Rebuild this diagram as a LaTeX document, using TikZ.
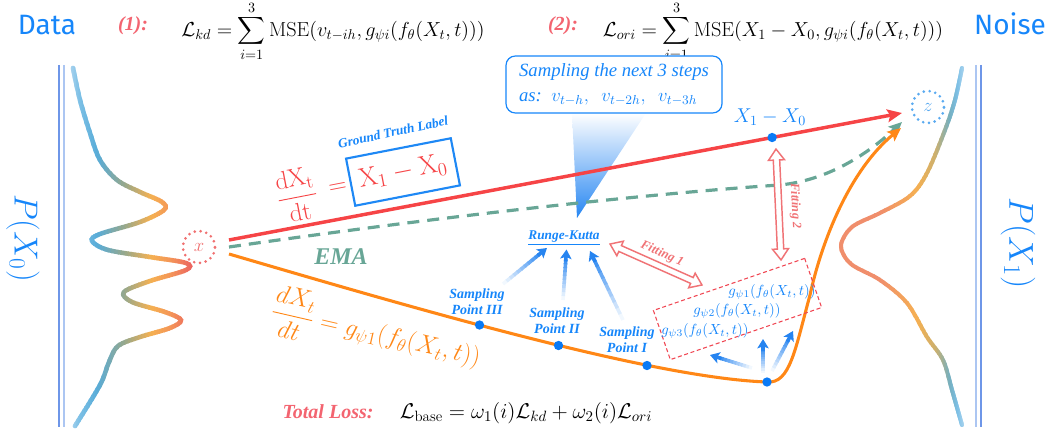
\RequirePackage{fix-cm}
\documentclass[tikz,border=0pt]{standalone}
\usepackage{fontspec}
\usepackage{amsmath}
\usetikzlibrary{arrows.meta,calc}
\newfontfamily\tnr{Liberation Serif}
\newfontfamily\pop{Fira Sans}
\definecolor{myblue}{RGB}{22,134,250}
\definecolor{pinkred}{RGB}{243,100,112}
\definecolor{redline}{RGB}{246,68,70}
\definecolor{orangec}{RGB}{255,135,22}
\definecolor{emagreen}{RGB}{104,166,150}
\definecolor{dotblue}{RGB}{10,122,245}
\definecolor{fitpink}{RGB}{240,115,118}
\definecolor{boxred}{RGB}{240,70,82}
\definecolor{xred}{RGB}{240,112,112}
\definecolor{zblue}{RGB}{90,170,240}
\definecolor{arrowblue}{RGB}{38,132,240}
\definecolor{triblue}{RGB}{38,134,242}
\definecolor{boxblue}{RGB}{30,136,245}
\definecolor{vline1}{RGB}{110,150,232}
\definecolor{vline2}{RGB}{172,198,242}
% curve gradient stops
\definecolor{clb}{RGB}{192,221,243}
\definecolor{csb}{RGB}{125,192,230}
\definecolor{cbl}{RGB}{88,172,216}
\definecolor{cgg}{RGB}{150,168,140}
\definecolor{cor}{RGB}{245,176,82}
\definecolor{cor2}{RGB}{244,148,88}
\definecolor{crd}{RGB}{234,92,96}
\definecolor{csal}{RGB}{240,142,108}
\definecolor{ctan}{RGB}{205,176,110}
\definecolor{cteal}{RGB}{118,176,192}

\newcommand\gradseg[6]{% #1 curve macro, #2 width, #3 x from, #4 x to, #5 colour at from, #6 colour at to
  \foreach \k in {0,...,7}{%
    \pgfmathsetmacro\xl{#3+(#4-(#3))*\k/8-0.5}%
    \pgfmathsetmacro\xr{#3+(#4-(#3))*(\k+1)/8+0.5}%
    \pgfmathtruncatemacro\pc{100-(\k+0.5)*12.5}%
    \begin{scope}
      \clip (\xl,40) rectangle (\xr,431);
      \draw[line width=#2, line cap=round, color=#5!\pc!#6] #1;
    \end{scope}
  }%
}
\newcommand\gradarrow[2]{%
  \coordinate (gaE) at ($(#2)!8pt!(#1)$);
  \foreach \k in {0,...,9}{%
    \pgfmathsetmacro\ta{\k/10}%
    \pgfmathsetmacro\tb{(\k+1)/10+0.02}%
    \pgfmathtruncatemacro\pc{6+9*\k}%
    \draw[line width=2.7pt, color=arrowblue!\pc!white] ($(#1)!\ta!(gaE)$) -- ($(#1)!\tb!(gaE)$);
  }%
  \draw[line width=2.7pt, arrowblue, -{Stealth[length=7pt,width=8.5pt,inset=1.5pt]}] ($(#2)!9pt!(#1)$) -- (#2);
}
\newcommand\hollowdarrow[3]{% #1 centre, #2 angle, #3 half length
  \begin{scope}[shift={#1}, rotate=#2]
    \draw[fitpink, line width=1.1pt, fill=white, line join=miter]
      (-#3,0) -- (-#3+11,8) -- (-#3+11,3.2) -- (#3-11,3.2) -- (#3-11,8) -- (#3,0)
      -- (#3-11,-8) -- (#3-11,-3.2) -- (-#3+11,-3.2) -- (-#3+11,-8) -- cycle;
  \end{scope}
}

\def\leftcurve{plot[smooth, tension=0.55] coordinates {(73,68) (80,100) (90,133) (100,160) (117,180) (140,192) (162,202) (164,210) (140,222) (100,234) (92,241) (108,250) (150,257) (186,263) (186,270) (150,281) (124,292) (132,302) (165,312) (181,320) (170,328) (140,337) (118,346) (109,362) (100,385) (75,426)}}
\def\rightcurve{plot[smooth, tension=0.55] coordinates {(962,68) (955,100) (945,130) (927,173) (910,196) (880,213) (852,227) (841,246) (851,264) (880,280) (907,303) (927,337) (943,360) (952,390) (962,425)}}

\begin{document}
\begin{tikzpicture}[x=0.75pt,y=-0.75pt,
  bdot/.style={circle, fill=dotblue, draw=none, inner sep=0pt, minimum size=7pt},
  slab/.style={text=myblue, align=center, font=\tnr\bfseries\itshape\fontsize{10.5}{12}\selectfont, inner sep=1pt},
  gtext/.style={text=myblue, font=\fontsize{11}{13}\selectfont, inner sep=0pt},
  fitlab/.style={text=fitpink, font=\tnr\bfseries\itshape\fontsize{9.5}{11}\selectfont, inner sep=0pt},
  ringnode/.style={circle, line width=2.2pt, dash pattern=on 0pt off 4.4pt, line cap=round, minimum size=24pt, inner sep=0pt, font=\fontsize{14}{16}\selectfont}
]
\useasboundingbox (0,0) rectangle (1060,431);

% ---------- distributions ----------
\gradseg{\leftcurve}{3.4pt}{66}{80}{clb}{csb}
\gradseg{\leftcurve}{3.4pt}{80}{98}{csb}{cbl}
\gradseg{\leftcurve}{3.4pt}{98}{125}{cbl}{cgg}
\gradseg{\leftcurve}{3.4pt}{125}{152}{cgg}{cor}
\gradseg{\leftcurve}{3.4pt}{152}{172}{cor}{cor2}
\gradseg{\leftcurve}{3.4pt}{172}{196}{cor2}{crd}

\gradseg{\rightcurve}{3pt}{834}{880}{csal}{csal}
\gradseg{\rightcurve}{3pt}{880}{918}{csal}{cor}
\gradseg{\rightcurve}{3pt}{918}{936}{cor}{ctan}
\gradseg{\rightcurve}{3pt}{936}{950}{ctan}{cteal}
\gradseg{\rightcurve}{3pt}{950}{958}{cteal}{csb}
\gradseg{\rightcurve}{3pt}{958}{968}{csb}{clb}

% ---------- double vertical lines ----------
\draw[vline1, line width=2pt] (59,65) -- (59,427);
\draw[vline2, line width=1.8pt] (64,65) -- (64,427);
\draw[vline2, line width=1.8pt] (976,65) -- (976,427);
\draw[vline1, line width=2pt] (981,65) -- (981,427);

% ---------- titles ----------
\node[text=myblue, font=\pop\fontsize{21}{25}\selectfont] (data) at (47,25) {Data};
\node[text=myblue, font=\pop\fontsize{21}{25}\selectfont] (noise) at (1010,24) {Noise};
\node[rotate=-90, text=myblue, font=\fontsize{25}{30}\selectfont] (p0) at (23,238) {$P(X_0)$};
\node[rotate=-90, text=myblue, font=\fontsize{26}{30}\selectfont] (p1) at (1018,243) {$P(X_1)$};

\node[text=pinkred, font=\tnr\bfseries\itshape\fontsize{15}{18}\selectfont] (l1) at (133,26) {(1):};
\node[font=\fontsize{15.2}{17}\selectfont] (f1) at (333,31) {$\displaystyle \mathcal{L}_{kd}=\sum_{i=1}^{3}\mathrm{MSE}(v_{t-ih},g_{\psi i}(f_\theta(X_t,t)))$};
\node[text=pinkred, font=\tnr\bfseries\itshape\fontsize{15}{18}\selectfont] (l2) at (563,26) {(2):};
\node[font=\fontsize{15.2}{17}\selectfont] (f2) at (773,31) {$\displaystyle \mathcal{L}_{ori}=\sum_{i=1}^{3}\mathrm{MSE}(X_1-X_0,g_{\psi i}(f_\theta(X_t,t)))$};

\node[text=pinkred, font=\tnr\bfseries\itshape\fontsize{15}{18}\selectfont] (tl) at (328,412) {Total Loss:};
\node[font=\fontsize{16}{19}\selectfont] (tlf) at (526,413) {$\mathcal{L}_{\mathrm{base}}=\omega_1(i)\mathcal{L}_{kd}+\omega_2(i)\mathcal{L}_{ori}$};

% ---------- spotlight triangle ----------
\shade[top color=white, bottom color=triblue] (572,113) -- (646,113) -- (577,218) -- cycle;

% ---------- end nodes ----------
\node[ringnode, draw=xred, text=xred] (xn) at (199,247) {$x$};
\node[ringnode, draw=zblue, text=zblue] (zn) at (928,107) {$z$};

\coordinate (rs) at ($(xn.center)+(30,-7)$);
\coordinate (gs) at ($(xn.center)+(30,0)$);
\coordinate (os) at ($(xn.center)+(30,7)$);
\coordinate (re) at ($(zn.center)+(-26,6)$);
\coordinate (ge) at ($(zn.center)+(-26,15)$);
\coordinate (oe) at ($(zn.center)+(-27,21)$);
\coordinate (bd) at (767,382);

% red straight flow
\draw[redline, line width=2.6pt, -{Stealth[length=11pt,width=9.5pt,inset=2pt]}] (rs) -- (re);
% EMA dashed
\draw[emagreen, line width=2.4pt, dash pattern=on 9pt off 6pt, -{Stealth[length=10pt,width=9pt,inset=2pt]}]
  (gs) .. controls (500,208) and (700,190) .. (780,185) .. controls (830,180) and (870,152) .. (ge);
% orange curved flow
\draw[orangec, line width=2.3pt, -{Stealth[length=10pt,width=9pt,inset=2pt]}]
  (os) .. controls (400,304) and (650,378) .. (bd)
  .. controls (790,384) and (795,350) .. (810,295)
  .. controls (822,240) and (850,170) .. (oe);

% sampling points
\node[bdot] (sp3) at (479.5,325) {};
\node[bdot] (sp2) at (558.5,345.5) {};
\node[bdot] (sp1) at (647,365.5) {};
\node[bdot] (bdn) at (bd) {};
\node[bdot] (gtdot) at ($(rs)!0.807!(re)$) {};

% ---------- labels on the flows ----------
\node[text=myblue, font=\fontsize{15}{18}\selectfont] (gtl) at (770,117) {$X_1-X_0$};
\node[rotate=12, text=myblue, font=\tnr\bfseries\itshape\fontsize{10}{12}\selectfont] (gtlab) at (393,132) {Ground Truth Label};
\node[rotate=11, text=redline, font=\fontsize{19}{22}\selectfont] (rfrac) at (297,195) {$\displaystyle\frac{\mathrm{dX_t}}{\mathrm{dt}}$};
\node[rotate=11, text=redline, font=\fontsize{19}{22}\selectfont] (req) at (338,188) {$=$};
\node[rotate=11, draw=boxblue, line width=1.6pt, text=redline, font=\fontsize{20}{22}\selectfont, minimum width=80pt, minimum height=36pt, inner sep=2pt] (gtbox) at (403,172) {$\mathrm{X_1-X_0}$};
\node[text=emagreen, font=\tnr\bfseries\itshape\fontsize{18}{20}\selectfont] (ema) at (341,257) {EMA};
\node[rotate=-13, text=orangec, font=\fontsize{19}{22}\selectfont] (olab) at (376,333) {$\displaystyle\frac{dX_t}{dt}=g_{\psi1}(f_\theta(X_t,t))$};

% ---------- Runge-Kutta ----------
\node[slab, font=\tnr\bfseries\itshape\fontsize{10}{12}\selectfont] (rk) at (564,238) {\underline{Runge-Kutta}};
\node[slab] (s3) at (477,302) {Sampling\\Point III};
\node[slab] (s2) at (557,321) {Sampling\\Point II};
\node[slab] (s1) at (627,340) {Sampling\\Point I};

\coordinate (a3s) at (503,284); \coordinate (a3e) at (547,248);
\coordinate (a2s) at (563,300); \coordinate (a2e) at (566.5,249.5);
\coordinate (a1s) at (623,320); \coordinate (a1e) at (590,251);
\gradarrow{a3s}{a3e}
\gradarrow{a2s}{a2e}
\gradarrow{a1s}{a1e}

% ---------- g box ----------
\node[draw=boxred, dash pattern=on 3pt off 2pt, line width=0.8pt, rotate=19, minimum width=120pt, minimum height=39pt] (gbox) at (737.5,309) {};
\node[gtext] (g1) at (772,292) {$g_{\psi1}(f_\theta(X_t,t))$};
\node[gtext] (g2) at (737,311) {$g_{\psi2}(f_\theta(X_t,t))$};
\node[gtext] (g3) at (705,331) {$g_{\psi3}(f_\theta(X_t,t))$};

\coordinate (b1s) at (752,368); \coordinate (b1e) at (710,355);
\coordinate (b2s) at (763,373); \coordinate (b2e) at (763,339);
\coordinate (b3s) at (772,371); \coordinate (b3e) at (793,331);
\gradarrow{b1s}{b1e}
\gradarrow{b2s}{b2e}
\gradarrow{b3s}{b3e}

% ---------- fitting arrows ----------
\hollowdarrow{(656,264.5)}{-24}{50.3}
\node[fitlab, rotate=-24] (fit1) at (662,254) {Fitting 1};
\hollowdarrow{(778.5,204.5)}{-87.4}{55.5}
\node[fitlab, rotate=-87] (fit2) at (795,206) {Fitting 2};

% ---------- callout ----------
\node[draw=myblue, fill=white, rounded corners=7pt, line width=0.9pt, minimum width=162pt, minimum height=42.75pt,
      text=myblue, align=left, font=\tnr\itshape\fontsize{14}{19}\selectfont, inner xsep=5pt, inner ysep=3pt] (callout) at (614,84.5)
  {Sampling the next 3 steps\\as:\ \ $v_{t-h},\ \ v_{t-2h},\ \ v_{t-3h}$};
\end{tikzpicture}
\end{document}
